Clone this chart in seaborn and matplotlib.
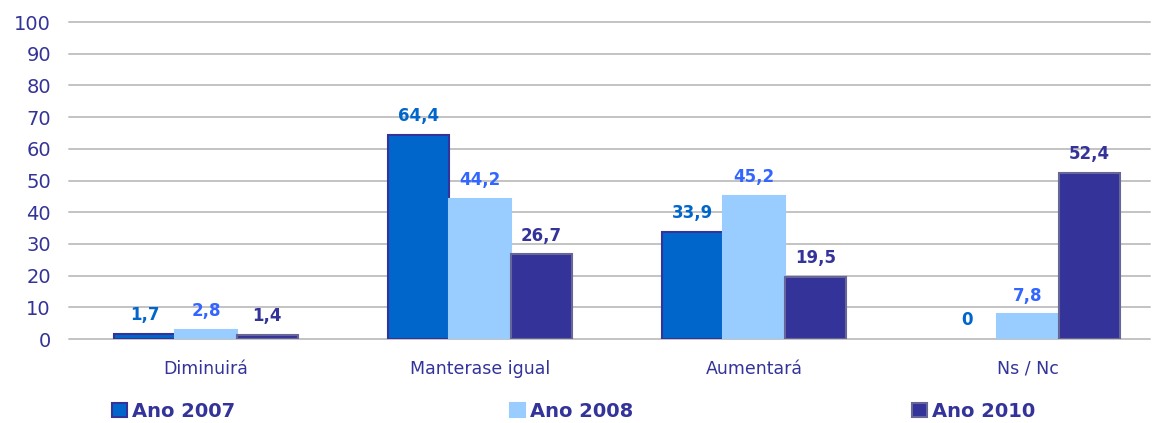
import matplotlib
matplotlib.use("Agg")
import matplotlib.pyplot as plt
import seaborn as sns
import pandas as pd

# data
categories = ['Diminuirá', 'Manterase igual', 'Aumentará', 'Ns / Nc']
years = ['Ano 2007', 'Ano 2008', 'Ano 2010']
ano_2007 = [1.7, 64.4, 33.9, 0]
ano_2008 = [2.8, 44.2, 45.2, 7.8]
ano_2010 = [1.4, 26.7, 19.5, 52.4]

fill = ['#0066CC', '#99CCFF', '#333399']
edge = ['#333399', '#99CCFF', '#666699']
label_col = ['#0066CC', '#3366FF', '#333399']
dark = '#333399'

df = pd.DataFrame({
    'cat': categories * 3,
    'year': [years[0]] * 4 + [years[1]] * 4 + [years[2]] * 4,
    'val': ano_2007 + ano_2008 + ano_2010,
})

sns.set_style('white')
plt.rcParams['font.family'] = ['DejaVu Sans']

fig = plt.figure(figsize=(11.52, 4.23), dpi=100)
ax = fig.add_axes([69 / 1152, 1 - 339 / 423, (1150 - 69) / 1152, (339 - 22) / 423])

sns.barplot(data=df, x='cat', y='val', hue='year', order=categories,
            hue_order=years, palette=fill, width=0.67, gap=0,
            saturation=1, legend=False, ax=ax)

for i, cont in enumerate(ax.containers):
    for bar in cont:
        bar.set_edgecolor(edge[i])
        bar.set_linewidth(1.5 if bar.get_height() > 0 else 0)
    ax.bar_label(cont, labels=[('%g' % v).replace('.', ',') for v in cont.datavalues],
                 padding=7, color=label_col[i], fontsize=12, fontweight='bold')

ax.set_ylim(0, 100)
ax.set_xlim(-0.5, 3.5 - 15 / 274)
ax.set_yticks(range(0, 101, 10))
ax.yaxis.grid(True, color='#C4C4C4', linewidth=1.44)
for gl in ax.get_ygridlines():
    gl.set_clip_on(False)
ax.set_axisbelow(True)
for s in ax.spines.values():
    s.set_visible(False)
ax.tick_params(axis='y', colors=dark, labelsize=14, length=0, pad=13)
ax.tick_params(axis='x', colors=dark, labelsize=12.5, length=0, pad=15)
ax.set_xlabel('')
ax.set_ylabel('')

# legend: one entry per column position
leg_x = [112, 510, 912]
for i in range(3):
    h = plt.Rectangle((0, 0), 1, 1, facecolor=fill[i], edgecolor=edge[i], linewidth=1.5)
    leg = fig.legend([h], [years[i]], loc='center left',
                     bbox_to_anchor=(leg_x[i] / 1152, 1 - 411 / 423),
                     frameon=False, handlelength=0.75, handleheight=0.75,
                     handletextpad=0.3, borderpad=0, borderaxespad=0,
                     prop={'weight': 'bold', 'size': 14})
    for t in leg.get_texts():
        t.set_color(dark)

fig.savefig('out.png', dpi=100)
